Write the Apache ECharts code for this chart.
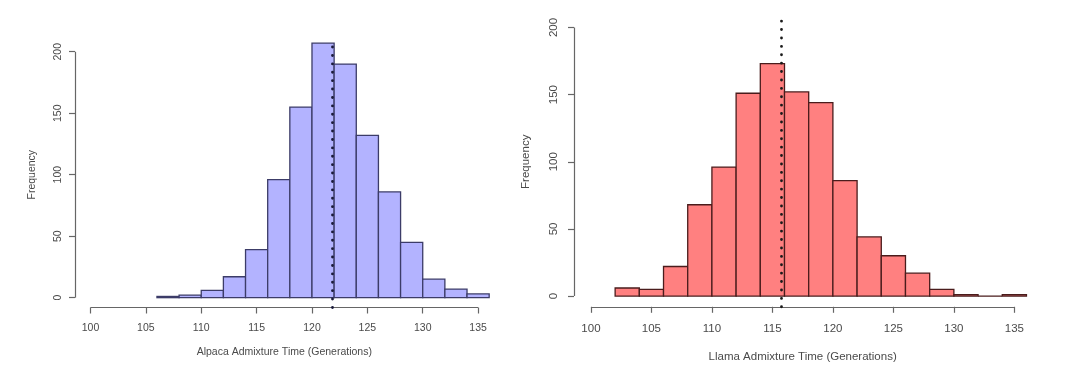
<!DOCTYPE html>
<html>
<head>
<meta charset="utf-8">
<script src="https://cdn.jsdelivr.net/npm/echarts@6/dist/echarts.min.js"></script>
<style>
html,body{margin:0;padding:0;background:#fff;}
#c{width:1080px;height:383px;}
</style>
</head>
<body>
<div id="c"></div>
<script>
// ---- Data ----
const alpacaBinLo = [106,108,110,112,114,116,118,120,122,124,126,128,130,132,134];
const alpacaBinHi = [108,110,112,114,116,118,120,122,124,126,128,130,132,134,136];
const alpacaCounts = [1,2,6,17,39,96,155,207,190,132,86,45,15,7,3];
const alpacaMean = 121.8;

const llamaBinLo = [102,104,106,108,110,112,114,116,118,120,122,124,126,128,130,132,134];
const llamaBinHi = [104,106,108,110,112,114,116,118,120,122,124,126,128,130,132,134,136];
const llamaCounts = [6,5,22,68,96,151,173,152,144,86,44,30,17,5,1,0,1];
const llamaMean = 115.7;

const xTicks = [100,105,110,115,120,125,130,135];
const yTicks = [0,50,100,150,200];
const xRange = [98.6, 136.4];
const yRange = [-8, 208];

const titles = {
  alpacaX: 'Alpaca Admixture Time (Generations)',
  llamaX: 'Llama Admixture Time (Generations)',
  y: 'Frequency'
};

// ---- Build ----
const FONT = '"Liberation Sans", Arial, Helvetica, sans-serif';
const TXT = '#4a4a4a';
const AX = '#666';

function binData(lo, hi, c){ return lo.map((v,i)=>[v, hi[i], c[i]]); }

function histSeries(idx, data, fill, stroke){
  return {
    type: 'custom', xAxisIndex: idx, yAxisIndex: idx,
    data: data,
    encode: {x:[0,1], y:2},
    silent: true,
    renderItem: function(params, api){
      const p0 = api.coord([api.value(0), 0]);
      const p1 = api.coord([api.value(1), api.value(2)]);
      return {type:'rect',
        shape:{x:p0[0], y:p1[1], width:p1[0]-p0[0], height:p0[1]-p1[1]},
        style:{fill: fill, stroke: stroke, lineWidth: 1.3}};
    }
  };
}

function decoSeries(idx, mean, dotColor){
  return {
    type: 'line', xAxisIndex: idx, yAxisIndex: idx, data: [], clip: false, silent: true,
    markLine: {
      silent: true, symbol: ['none','none'], animation: false,
      label: {show:false},
      emphasis: {disabled: true},
      data: [
        [{coord:[xTicks[0], yRange[0]], lineStyle:{color:AX, width:1.2, type:'solid'}},
         {coord:[xTicks[xTicks.length-1], yRange[0]]}],
        [{coord:[xRange[0], yTicks[0]], lineStyle:{color:AX, width:1.2, type:'solid'}},
         {coord:[xRange[0], yTicks[yTicks.length-1]]}],
        [{coord:[mean, yRange[0]], lineStyle:{color:dotColor, width:2.8, type:[0.1, 8.3], cap:'round'}},
         {coord:[mean, yRange[1]]}]
      ]
    }
  };
}

function xAxis(idx, name, fs, margin, gap){
  return {
    type:'value', gridIndex: idx, min: xRange[0], max: xRange[1],
    axisLine:{show:false, onZero:false}, splitLine:{show:false},
    axisTick:{show:true, inside:false, customValues: xTicks, length:6, lineStyle:{color:AX, width:1.2}},
    axisLabel:{show:true, customValues: xTicks, margin: margin, color: TXT, fontFamily: FONT, fontSize: fs},
    name: name, nameLocation:'middle', nameGap: gap,
    nameTextStyle:{color: TXT, fontFamily: FONT, fontSize: fs}
  };
}
function yAxis(idx, fs, margin, gap){
  return {
    type:'value', gridIndex: idx, min: yRange[0], max: yRange[1],
    axisLine:{show:false, onZero:false}, splitLine:{show:false},
    axisTick:{show:true, inside:false, customValues: yTicks, length:6, lineStyle:{color:AX, width:1.2}},
    axisLabel:{show:true, customValues: yTicks, rotate: 90, margin: margin, color: TXT, fontFamily: FONT, fontSize: fs},
    name: titles.y, nameLocation:'middle', nameGap: gap, nameRotate: 90,
    nameTextStyle:{color: TXT, fontFamily: FONT, fontSize: fs}
  };
}

const chart = echarts.init(document.getElementById('c'), null, {renderer:'canvas'});
chart.setOption({
  animation: false,
  backgroundColor: '#fff',
  grid: [
    {left: 75, top: 41.9, width: 418.6, height: 265.6},
    {left: 574, top: 16.7, width: 457.3, height: 290.1}
  ],
  xAxis: [ xAxis(0, titles.alpacaX, 10.5, 15.5, 39.5), xAxis(1, titles.llamaX, 11.5, 16, 44.5) ],
  yAxis: [ yAxis(0, 10.5, 11.5, 37), yAxis(1, 11.5, 14, 42) ],
  series: [
    histSeries(0, binData(alpacaBinLo, alpacaBinHi, alpacaCounts), '#b3b3ff', '#3c3c68'),
    histSeries(1, binData(llamaBinLo, llamaBinHi, llamaCounts), '#ff8080', '#4a1c1c'),
    decoSeries(0, alpacaMean, '#1a1a3a'),
    decoSeries(1, llamaMean, '#1a1a1a')
  ]
});
</script>
</body>
</html>
